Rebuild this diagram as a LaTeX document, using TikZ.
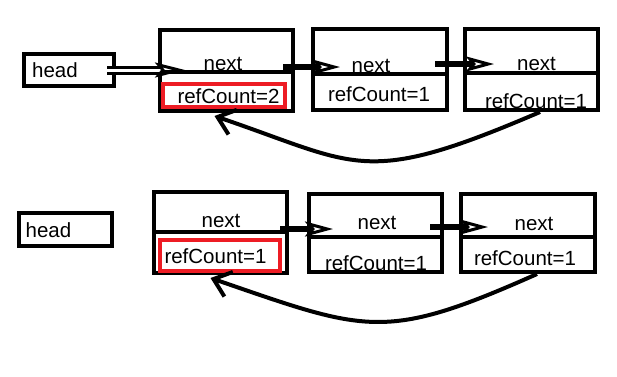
\documentclass[tikz,border=0pt]{standalone}
\usepackage{fontspec}
\setmainfont{Liberation Sans}
\usetikzlibrary{arrows.meta,calc}
\definecolor{paintred}{HTML}{ED1C24}
\begin{document}
\begin{tikzpicture}[x=1pt,y=-1pt,
  cell/.style={draw=black,line width=4pt,inner sep=0pt,fill=none},
  redbox/.style={draw=paintred,line width=4pt,inner sep=0pt},
  txt/.style={inner sep=0pt,font=\fontsize{20.5pt}{24pt}\selectfont},
  divline/.style={line width=4pt},
  conn/.style={line width=6pt,-{Stealth[open,length=28pt 0 0,width=15pt 0 0,inset=6pt,line width=3pt]}},
  hconn/.style={double=white,double distance=3pt,line width=3pt,-{Stealth[open,length=30pt 0 0,width=15pt 0 0,inset=6pt,line width=3pt]}},
  back/.style={line width=4pt,-{Straight Barb[length=16pt,width=26pt,line width=4pt]}}
]
\useasboundingbox (0,0) rectangle (617,376);
% ---------- top row ----------
\node[cell,minimum width=90pt,minimum height=32pt] (hA) at (69,70) {};
\node[cell,minimum width=133pt,minimum height=81pt] (A1) at (226.5,70.5) {};
\node[cell,minimum width=134pt,minimum height=81pt] (A2) at (380,69.5) {};
\node[cell,minimum width=133pt,minimum height=81pt] (A3) at (531.5,69.5) {};
\draw[divline] (A1.west |- 0,72) -- (A1.east |- 0,72);
\draw[divline] (A2.west |- 0,74) -- (A2.east |- 0,74);
\draw[divline] (A3.west |- 0,73) -- (A3.east |- 0,73);
\node[redbox,minimum width=122pt,minimum height=23pt] (rA) at (224,95.5) {};
\node[txt] (hAt) at (55,70) {head};
\node[txt] (A1n) at (223,64) {next};
\node[txt] (A2n) at (371,65.5) {next};
\node[txt] (A3n) at (536.5,64) {next};
\node[txt] (A1r) at (228.5,96) {refCount=2};
\node[txt] (A2r) at (379,94.5) {refCount=1};
\node[txt] (A3r) at (536,101) {refCount=1};
\draw[hconn] ($(hA.east)+(-9,0)$) -- ($(A1.west)+(27,-0.5)$);
\draw[conn] ($(A1.east)+(-12,-3.5)$) -- ($(A2.west)+(29,-2.5)$);
\draw[conn] ($(A2.east)+(-14,-5.5)$) -- ($(A3.west)+(31,-5.5)$);
\draw[back] ($(A3.south)+(8.5,0)$) .. controls (363,188) and (359,165) .. ($(A1.south)+(-12,3)$);
% ---------- bottom row ----------
\node[cell,minimum width=93pt,minimum height=33pt] (hB) at (65.5,229.5) {};
\node[cell,minimum width=133pt,minimum height=81pt] (B1) at (220.5,232.5) {};
\node[cell,minimum width=133pt,minimum height=78pt] (B2) at (375.5,233) {};
\node[cell,minimum width=134pt,minimum height=78pt] (B3) at (528,233) {};
\draw[divline] (B1.west |- 0,232) -- (B1.east |- 0,232);
\draw[divline] (B2.west |- 0,237) -- (B2.east |- 0,237);
\draw[divline] (B3.west |- 0,237) -- (B3.east |- 0,237);
\node[redbox,minimum width=120pt,minimum height=31pt] (rB) at (220,255.5) {};
\node[txt] (hBt) at (48.5,230) {head};
\node[txt] (B1n) at (221,220.5) {next};
\node[txt] (B2n) at (377,222.5) {next};
\node[txt] (B3n) at (534,224) {next};
\node[txt] (B1r) at (215.5,256) {refCount=1};
\node[txt] (B2r) at (376,263) {refCount=1};
\node[txt] (B3r) at (525,258) {refCount=1};
\draw[conn] ($(B1.east)+(-9,-3.5)$) -- ($(B2.west)+(26,-4)$);
\draw[conn] ($(B2.east)+(-14,-6)$) -- ($(B3.west)+(29,-6)$);
\draw[back] ($(B3.south)+(9,0)$) .. controls (384,342) and (367.5,332) .. ($(B1.south)+(-10,3)$);
\end{tikzpicture}
\end{document}
